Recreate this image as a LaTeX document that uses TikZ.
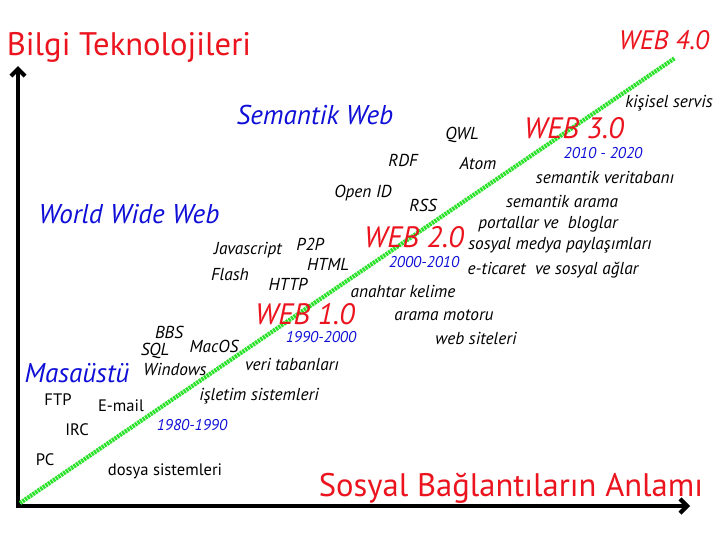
\documentclass[tikz,border=0pt]{standalone}
\usepackage{fontspec}
\setmainfont{PT Sans}
\usetikzlibrary{arrows.meta}
\definecolor{webred}{RGB}{235,20,30}
\definecolor{webblue}{RGB}{15,15,215}
\definecolor{webgreen}{RGB}{40,225,40}
\begin{document}
\begin{tikzpicture}[x=0.025cm, y=-0.025cm,
    every node/.style={inner sep=0pt},
    tag/.style={font=\fontsize{12.3}{14}\selectfont\itshape},
    plain/.style={font=\fontsize{11.8}{14}\selectfont},
    era/.style={text=webred, font=\fontsize{21}{24}\selectfont\itshape},
    field/.style={text=webblue, font=\fontsize{19.3}{23}\selectfont\itshape},
    years/.style={text=webblue, font=\fontsize{11.1}{13}\selectfont\itshape},
    title/.style={text=webred, font=\fontsize{23.2}{26}\selectfont}]

    \useasboundingbox (0,0) rectangle (720,540);

    % Axes
    \coordinate (origin) at (18,506);
    \coordinate (ytip) at (18,66);
    \coordinate (xtip) at (690,506);
    \draw[line width=3pt, line cap=rect, -{Straight Barb[length=5pt, width=10pt]}] (origin) -- (ytip);
    \draw[line width=3pt, line cap=rect, -{Straight Barb[length=5pt, width=10pt]}] (origin) -- (xtip);

    % Trend line
    \coordinate (t_start) at (20,503);
    \coordinate (t_end) at (675,58);
    \draw[webgreen, line width=3pt, dash pattern=on 1.6pt off 0.6pt] (t_start) -- (t_end);

    % Axis titles
    \node[title] (t_y) at (129,47) {Bilgi Teknolojileri};
    \node[title] (t_x) at (511,488) {Sosyal Bağlantıların Anlamı};

    % Eras
    \node[era, font=\fontsize{19}{22}\selectfont\itshape] (w4) at (664,40) {WEB 4.0};
    \node[era] (w3) at (574,128) {WEB 3.0};
    \node[era] (w2) at (414,237) {WEB 2.0};
    \node[era] (w1) at (305,314) {WEB 1.0};

    \node[years] (y3) at (603,153) {2010 - 2020};
    \node[years] (y2) at (424,262) {2000-2010};
    \node[years] (y1) at (321,337) {1990-2000};
    \node[years] (y0) at (192,425) {1980-1990};

    % Fields
    \node[field] (f_sem) at (315,115) {Semantik Web};
    \node[field] (f_www) at (129,214) {World Wide Web};
    \node[field] (f_desk) at (77,373) {Masaüstü};

    % Technologies
    \node[tag] (qwl) at (462,135) {QWL};
    \node[tag] (rdf) at (403,160) {RDF};
    \node[tag] (atom) at (478,163) {Atom};
    \node[tag] (oid) at (363,193) {Open ID};
    \node[tag] (rss) at (423,205) {RSS};
    \node[tag] (js) at (248,250) {Javascript};
    \node[tag] (p2p) at (310,244) {P2P};
    \node[tag] (html) at (328,264) {HTML};
    \node[tag] (flash) at (230,275) {Flash};
    \node[tag] (http) at (288,284) {HTTP};
    \node[tag] (bbs) at (169,332) {BBS};
    \node[tag] (sql) at (155,351) {SQL};
    \node[tag] (macos) at (214,346) {MacOS};
    \node[tag] (win) at (175,369) {Windows};
    \node[plain] (ftp) at (58,400) {FTP};
    \node[plain] (mail) at (121,406) {E-mail};
    \node[plain] (irc) at (77,430) {IRC};
    \node[plain] (pc) at (45,460) {PC};

    % Uses
    \node[tag] (serv) at (669,103) {kişisel servis};
    \node[tag] (svt) at (605,177) {semantik veritabanı};
    \node[tag] (sar) at (562,201) {semantik arama};
    \node[tag] (blog) at (548,224) {portallar ve\ \ bloglar};
    \node[tag] (smp) at (560,245) {sosyal medya paylaşımları};
    \node[tag] (etic) at (553,270) {e-ticaret\ \ ve sosyal ağlar};
    \node[tag] (key) at (403,291) {anahtar kelime};
    \node[tag] (srch) at (444,315) {arama motoru};
    \node[tag] (site) at (476,338) {web siteleri};
    \node[tag] (db) at (292,364) {veri tabanları};
    \node[tag] (os) at (259,396) {işletim sistemleri};
    \node[plain] (fs) at (165,471) {dosya sistemleri};

\end{tikzpicture}
\end{document}
